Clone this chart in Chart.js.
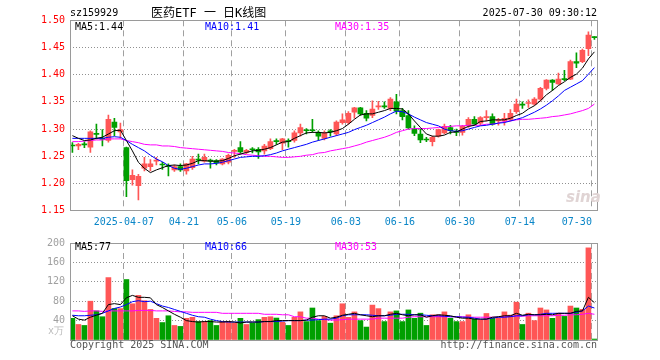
<!DOCTYPE html>
<html><head><meta charset="utf-8">
<script src="https://cdn.jsdelivr.net/npm/chart.js@4.4.0/dist/chart.umd.min.js"></script>
<style>
html,body{margin:0;padding:0;background:#fff;}
#wrap{position:relative;width:660px;height:360px;overflow:hidden;font-family:'DejaVu Sans Mono',monospace;font-size:10px;}
canvas{position:absolute;left:0;}
.t{position:absolute;white-space:pre;line-height:10px;}
</style></head><body>
<div id="wrap">
<canvas id="main" width="660" height="232" style="top:0"></canvas>
<canvas id="vol" width="660" height="128" style="top:232px"></canvas>
<div class="t" style="left:70px;top:8px;color:#000">sz159929</div>
<div class="t" style="left:151px;top:7px;color:#000;font-size:12px;line-height:12px;font-family:'DejaVu Sans Mono','Noto Sans CJK SC',monospace">医药ETF 一 日K线图</div>
<div class="t" id="dt" style="right:63px;top:7.5px;color:#000">2025-07-30 09:30:12</div>
<div class="t" id="m5" style="left:75px;top:21.5px;color:#000"></div>
<div class="t" id="m10" style="left:205px;top:21.5px;color:#0000ff"></div>
<div class="t" id="m30" style="left:335px;top:21.5px;color:#ff00ff"></div>
<div class="t" id="v5" style="left:75px;top:241.5px;color:#000"></div>
<div class="t" id="v10" style="left:205px;top:241.5px;color:#0000ff"></div>
<div class="t" id="v30" style="left:335px;top:241.5px;color:#ff00ff"></div>
<div class="t" style="left:48px;top:326px;color:#bbb">x万</div>
<div class="t" style="left:70px;top:339.5px;color:#555">Copyright 2025 SINA.COM</div>
<div class="t" style="right:63px;top:339.5px;color:#555">http://finance.sina.com.cn</div>
<div class="t" style="left:566px;top:190px;color:#e0d4d4;font-size:15px;line-height:15px;font-style:italic;font-weight:bold;font-family:'DejaVu Sans',sans-serif">sina</div>
</div>
<script>
const dates = ['2025-03-24','2025-03-25','2025-03-26','2025-03-27','2025-03-28','2025-03-31','2025-04-01','2025-04-02','2025-04-03',
'2025-04-07','2025-04-08','2025-04-09','2025-04-10','2025-04-11','2025-04-14','2025-04-15','2025-04-16','2025-04-17','2025-04-18',
'2025-04-21','2025-04-22','2025-04-23','2025-04-24','2025-04-25','2025-04-28','2025-04-29','2025-04-30',
'2025-05-06','2025-05-07','2025-05-08','2025-05-09','2025-05-12','2025-05-13','2025-05-14','2025-05-15','2025-05-16',
'2025-05-19','2025-05-20','2025-05-21','2025-05-22','2025-05-23','2025-05-26','2025-05-27','2025-05-28','2025-05-29','2025-05-30',
'2025-06-03','2025-06-04','2025-06-05','2025-06-06','2025-06-09','2025-06-10','2025-06-11','2025-06-12','2025-06-13',
'2025-06-16','2025-06-17','2025-06-18','2025-06-19','2025-06-20','2025-06-23','2025-06-24','2025-06-25','2025-06-26','2025-06-27',
'2025-06-30','2025-07-01','2025-07-02','2025-07-03','2025-07-04','2025-07-07','2025-07-08','2025-07-09','2025-07-10','2025-07-11',
'2025-07-14','2025-07-15','2025-07-16','2025-07-17','2025-07-18','2025-07-21','2025-07-22','2025-07-23','2025-07-24','2025-07-25',
'2025-07-28','2025-07-29','2025-07-30'];

const opens = [1.270,1.269,1.273,1.267,1.292,1.283,1.279,1.313,1.295,1.266,
1.207,1.196,1.228,1.231,1.241,1.235,1.232,1.225,1.231,1.223,
1.229,1.245,1.241,1.242,1.242,1.236,1.239,1.259,1.266,1.257,
1.263,1.263,1.260,1.264,1.278,1.274,1.278,1.279,1.293,1.298,
1.298,1.294,1.283,1.296,1.291,1.312,1.312,1.331,1.339,1.329,
1.325,1.341,1.342,1.338,1.350,1.334,1.325,1.301,1.291,1.281,
1.277,1.287,1.293,1.303,1.295,1.294,1.306,1.318,1.311,1.321,
1.323,1.315,1.315,1.318,1.332,1.345,1.347,1.346,1.355,1.375,
1.390,1.383,1.392,1.392,1.424,1.424,1.448,1.470];
const closes = [1.269,1.272,1.271,1.295,1.290,1.281,1.318,1.303,1.299,1.205,
1.215,1.213,1.236,1.236,1.242,1.234,1.231,1.231,1.225,1.236,
1.245,1.243,1.248,1.241,1.238,1.245,1.252,1.260,1.258,1.261,
1.262,1.258,1.269,1.277,1.277,1.282,1.277,1.293,1.303,1.297,
1.297,1.287,1.293,1.295,1.313,1.317,1.329,1.339,1.328,1.320,
1.337,1.342,1.341,1.355,1.333,1.323,1.302,1.292,1.280,1.280,
1.285,1.299,1.305,1.297,1.294,1.305,1.318,1.309,1.321,1.322,
1.309,1.316,1.320,1.329,1.346,1.344,1.348,1.355,1.375,1.390,
1.386,1.392,1.391,1.424,1.421,1.445,1.473,1.468];
const highs = [1.275,1.274,1.277,1.297,1.309,1.299,1.326,1.320,1.311,1.267,
1.225,1.217,1.248,1.244,1.248,1.239,1.236,1.234,1.236,1.237,
1.250,1.254,1.254,1.245,1.244,1.246,1.254,1.263,1.277,1.263,
1.266,1.266,1.272,1.282,1.282,1.283,1.282,1.297,1.309,1.301,
1.318,1.297,1.297,1.299,1.315,1.328,1.332,1.340,1.340,1.334,
1.352,1.351,1.350,1.358,1.364,1.338,1.334,1.306,1.300,1.285,
1.287,1.300,1.309,1.307,1.300,1.307,1.321,1.323,1.323,1.334,
1.328,1.320,1.329,1.336,1.355,1.350,1.354,1.358,1.377,1.391,
1.391,1.403,1.408,1.427,1.440,1.447,1.479,1.470];
const lows = [1.257,1.262,1.266,1.257,1.282,1.269,1.276,1.288,1.283,1.176,
1.197,1.170,1.223,1.223,1.234,1.226,1.214,1.222,1.222,1.217,
1.226,1.236,1.239,1.228,1.234,1.234,1.236,1.248,1.254,1.255,
1.256,1.246,1.254,1.262,1.272,1.262,1.267,1.276,1.287,1.291,
1.294,1.279,1.280,1.287,1.288,1.309,1.309,1.320,1.325,1.315,
1.321,1.336,1.338,1.334,1.328,1.317,1.300,1.288,1.275,1.277,
1.269,1.285,1.291,1.291,1.288,1.289,1.303,1.307,1.307,1.315,
1.307,1.307,1.307,1.315,1.329,1.338,1.340,1.344,1.352,1.372,
1.371,1.382,1.389,1.391,1.413,1.422,1.435,1.465];

const ma5 = [1.288,1.283,1.279,1.280,1.283,1.285,1.291,1.297,1.298,1.279,
1.260,1.239,1.228,1.220,1.225,1.229,1.233,1.234,1.233,1.234,
1.237,1.242,1.242,1.241,1.241,1.242,1.246,1.251,1.254,1.257,
1.260,1.261,1.263,1.266,1.271,1.276,1.277,1.283,1.288,1.293,
1.294,1.294,1.293,1.294,1.297,1.301,1.309,1.318,1.326,1.328,
1.328,1.331,1.334,1.338,1.338,1.337,1.328,1.315,1.303,1.291,
1.287,1.287,1.289,1.294,1.295,1.300,1.305,1.307,1.314,1.315,
1.317,1.317,1.317,1.320,1.325,1.329,1.337,1.343,1.352,1.363,
1.371,1.380,1.387,1.395,1.401,1.412,1.429,1.442];
const ma10 = [1.283,1.283,1.283,1.283,1.283,1.283,1.285,1.286,1.285,1.279,
1.272,1.266,1.260,1.252,1.245,1.240,1.233,1.228,1.226,1.228,
1.231,1.234,1.236,1.236,1.237,1.239,1.242,1.245,1.248,1.249,
1.250,1.250,1.251,1.253,1.256,1.260,1.263,1.266,1.269,1.272,
1.276,1.279,1.282,1.285,1.288,1.291,1.294,1.299,1.303,1.307,
1.312,1.317,1.322,1.328,1.333,1.332,1.328,1.322,1.317,1.312,
1.309,1.306,1.300,1.297,1.296,1.297,1.300,1.303,1.306,1.307,
1.309,1.311,1.312,1.315,1.318,1.321,1.326,1.331,1.337,1.344,
1.352,1.361,1.371,1.377,1.383,1.389,1.401,1.413];
const ma30 = [1.277,1.277,1.278,1.279,1.280,1.280,1.282,1.282,1.282,1.279,
1.277,1.275,1.272,1.271,1.271,1.269,1.269,1.268,1.266,1.265,
1.264,1.263,1.262,1.261,1.260,1.259,1.257,1.256,1.255,1.253,
1.252,1.251,1.250,1.250,1.249,1.248,1.248,1.249,1.250,1.252,
1.253,1.256,1.257,1.260,1.262,1.264,1.266,1.269,1.272,1.276,
1.279,1.282,1.285,1.289,1.294,1.297,1.300,1.301,1.301,1.301,
1.302,1.303,1.304,1.305,1.306,1.306,1.307,1.307,1.307,1.309,
1.309,1.311,1.314,1.315,1.317,1.318,1.318,1.319,1.320,1.321,
1.323,1.324,1.326,1.328,1.331,1.334,1.338,1.346];

const vols = [44.7,32,30,80,60,48,128.7,65,64.7,124.7,
74.7,92,81,63,44.7,36,50,30,28,44.7,
46.7,38,38,40,30,38,38,35,44.7,32,
35,42,46.7,48,45.3,36.7,30,46.7,58,38,
66,40,48.7,34.7,50,74.7,46.7,58,40,26.7,
72,64.7,38,58,60,38,62,44.7,55.3,30,
52,52,58,44.7,38,38,52,43.3,41.3,54.7,
44.7,44.7,58,51.3,78,32,55.3,40,66,62,
44.7,55.3,48.7,70,66,63.3,190,2];
const vma5 = [50,43,41,47,51,55,73,75,73,87,
92,88,88,87,73,67,60,53,47,40,
38,37,38,38,37,37,38,37,35,37,
37,37,38,38,40,40,40,40,40,41,
47,50,50,45,47,51,53,55,52,50,
48,50,50,53,55,52,50,52,52,47,
50,52,51,50,47,45,45,43,43,43,
47,48,50,50,55,51,53,52,52,53,
52,55,55,55,59,60,88,77];
const vma10 = [51,50,50,51,52,55,60,65,68,73,
79,81,79,80,75,70,67,63,59,55,
51,48,47,43,40,38,37,37,37,37,
37,37,38,38,38,39,40,40,40,41,
41,42,43,43,45,50,52,52,52,52,
51,50,50,51,53,53,53,52,52,51,
50,50,49,48,48,47,47,45,43,43,
45,47,47,48,50,50,52,52,53,55,
55,55,55,55,57,60,70,66];
const vma30 = [60,60,59,60,60,59,60,60,60,60,
60,61,61,61,60,60,60,59,58,58,
57,57,57,57,57,55,55,55,55,55,
55,55,53,53,53,52,52,48,48,45,
45,43,42,41,41,42,43,43,43,43,
43,45,45,45,45,45,47,48,48,48,
48,48,48,48,48,48,47,47,47,47,
47,47,48,49,49,49,50,50,50,50,
50,51,51,52,52,53,55,53];

const priceTicks = [1.15,1.20,1.25,1.30,1.35,1.40,1.45,1.50];
const volTicks = [0,40,80,120,160,200];
const tickDates = ['2025-04-07','2025-04-21','2025-05-06','2025-05-19','2025-06-03','2025-06-16','2025-06-30','2025-07-14','2025-07-30'];

const N = dates.length;
const idx = dates.map((d,i)=>i);
const UP = '#ff5656', DN = '#009f00';
const cols = idx.map(i => closes[i] >= opens[i] ? UP : DN);
const tickPos = tickDates.map(d => dates.indexOf(d) - 0.42);
const tickLbl = tickDates.map((d,k) => {
  if (k === 0) return d;
  const s = d.slice(5);
  return k === tickDates.length - 1 ? s + '     ' : s;
});
const XMIN = -0.4, XMAX = N - 0.57;
const FONT = {family:"'DejaVu Sans Mono', monospace", size:10};

document.getElementById('m5').textContent = 'MA5:' + ma5[N-1].toFixed(2);
document.getElementById('m10').textContent = 'MA10:' + ma10[N-1].toFixed(2);
document.getElementById('m30').textContent = 'MA30:' + ma30[N-1].toFixed(2);
document.getElementById('v5').textContent = 'MA5:' + Math.round(vma5[N-1]);
document.getElementById('v10').textContent = 'MA10:' + Math.round(vma10[N-1]);
document.getElementById('v30').textContent = 'MA30:' + Math.round(vma30[N-1]);

const frame = {
  id:'frame',
  afterDraw(c){
    const a = c.chartArea, ctx = c.ctx;
    ctx.save();
    ctx.strokeStyle = '#9a9a9a';
    ctx.lineWidth = 1;
    ctx.strokeRect(Math.round(a.left)+0.5, Math.round(a.top)+0.5, Math.round(a.right-a.left), Math.round(a.bottom-a.top));
    ctx.restore();
  }
};
function line(arr, color){
  return {type:'line', data: idx.map(i=>({x:i, y:arr[i]})), borderColor:color, borderWidth:1,
    pointRadius:0, tension:0, fill:false, order:0};
}
function xScale(showTicks, h){
  return {type:'linear', min:XMIN, max:XMAX, offset:false,
    afterBuildTicks: s => { s.ticks = tickPos.map(v => ({value:v})); },
    afterFit: s => { s.height = h; },
    ticks:{display:showTicks, callback:(v,k)=>tickLbl[k], color:'#0a86c8', font:FONT, maxRotation:0, minRotation:0, autoSkip:false, padding:6},
    grid:{display:true, offset:false, drawOnChartArea:true, color:'#a0a0a0', lineWidth:1, drawTicks:false},
    border:{display:false, dash:[6,4]}};
}
Chart.defaults.font.family = FONT.family;
Chart.defaults.font.size = 10;

new Chart(document.getElementById('main'), {
  type:'bar',
  data:{datasets:[
    {type:'bar', data: idx.map(i=>({x:i, y:[lows[i], highs[i]]})), backgroundColor:cols, barThickness:1, grouped:false, order:2},
    {type:'bar', data: idx.map(i=>({x:i, y:[opens[i], closes[i]]})), backgroundColor:cols, barThickness:5, grouped:false, minBarLength:1, order:1},
    line(ma5,'#000000'), line(ma10,'#0000ff'), line(ma30,'#ff00ff')
  ]},
  options:{
    responsive:false, animation:false, events:[],
    layout:{padding:{left:0, right:63, top:20.3, bottom:0}},
    plugins:{legend:{display:false}, tooltip:{enabled:false}},
    scales:{
      x: xScale(true, 21.3),
      y: {min:1.15, max:1.50,
        afterBuildTicks: s => { s.ticks = priceTicks.map(v => ({value:v})); },
        afterFit: s => { s.width = 70; },
        ticks:{callback:v=>v.toFixed(2), color:'#ff0000', font:FONT, padding:5},
        grid:{display:true, drawOnChartArea:true, color:'#909090', lineWidth:1, drawTicks:false},
        border:{display:false, dash:[1,2]}}
    }
  },
  plugins:[frame]
});

new Chart(document.getElementById('vol'), {
  type:'bar',
  data:{datasets:[
    {type:'bar', data: idx.map(i=>({x:i, y:vols[i]})), backgroundColor:cols, barThickness:5, grouped:false, order:1},
    line(vma5,'#000000'), line(vma10,'#0000ff'), line(vma30,'#ff00ff')
  ]},
  options:{
    responsive:false, animation:false, events:[],
    layout:{padding:{left:0, right:63, top:8, bottom:0}},
    plugins:{legend:{display:false}, tooltip:{enabled:false}},
    scales:{
      x: xScale(false, 20),
      y: {min:0, max:200,
        afterBuildTicks: s => { s.ticks = volTicks.map(v => ({value:v})); },
        afterFit: s => { s.width = 70; },
        ticks:{callback:v=> v === 0 ? '' : String(v), color:'#a0a0a0', font:FONT, padding:5},
        grid:{display:true, drawOnChartArea:true, color:'#909090', lineWidth:1, drawTicks:false},
        border:{display:false, dash:[1,2]}}
    }
  },
  plugins:[frame]
});
</script>
</body></html>
